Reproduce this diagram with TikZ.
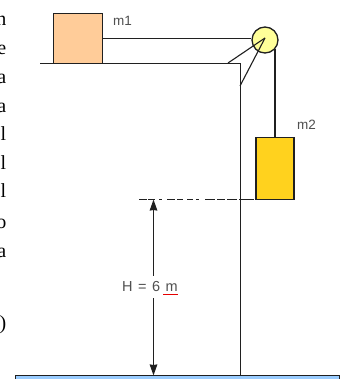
\documentclass[tikz,border=0pt]{standalone}
\usepackage{fontspec}
\setmainfont{Liberation Sans}
\newfontfamily\cutfont{Liberation Serif}
\usetikzlibrary{arrows.meta}
\definecolor{massacol}{HTML}{FFCC99}
\definecolor{massbcol}{HTML}{FFD21E}
\definecolor{pulleycol}{HTML}{FFFF99}
\definecolor{floorcol}{HTML}{99CCFF}
\definecolor{inkcol}{HTML}{202020}
\definecolor{labelcol}{HTML}{505050}
\tikzset{
    massbox/.style={draw=inkcol, line width=1.6pt, inner sep=0pt, outer sep=0pt, anchor=north west},
    rope/.style={draw=inkcol, line width=1.6pt},
    strut/.style={draw=inkcol, line width=1.1pt},
    masslabel/.style={text=labelcol, font=\fontsize{13.5}{15}\selectfont, inner sep=0pt},
    cutletter/.style={font=\cutfont\fontsize{20}{22}\selectfont, anchor=base east, inner sep=0pt},
}
\begin{document}
\begin{tikzpicture}[x=1pt, y=-1pt, >={Stealth[length=11pt, width=7.5pt, inset=0.5pt]}]
    \clip (0, 0) rectangle (345, 379);
    \fill[white] (0, 0) rectangle (345, 379);

    % Letters cut off at the left edge
    \foreach \ch/\ypos [count=\i] in {n/26, e/55, a/84, a/113, l/141, l/169, l/197, o/228, a/257, )/329}
        \node[cutletter] (cut\i) at (6.5, \ypos) {\ch};

    % Fixed points
    \coordinate (tablel) at (40, 63.5);
    \coordinate (corner) at (240.5, 63.5);
    \coordinate (apex) at (265, 38);
    \coordinate (strutl) at (228, 63);
    \coordinate (strutb) at (240, 86);
    \coordinate (refl) at (139, 199.5);
    \coordinate (htop) at (153.5, 199.5);
    \coordinate (hbot) at (153.5, 375.5);

    % Floor
    \node[massbox, fill=floorcol, minimum width=324pt, minimum height=12pt] (floor) at (15.5, 375.5) {};
    \coordinate (foot) at (floor.north -| corner);

    % Table and masses
    \draw[rope] (tablel) -- (corner) -- (foot);
    \node[massbox, fill=massacol, minimum width=49pt, minimum height=50pt] (massa) at (53.5, 13.5) {};
    \node[massbox, fill=massbcol, minimum width=38pt, minimum height=62pt] (massb) at (256, 137.5) {};
    \node[circle, draw=inkcol, line width=1.3pt, fill=pulleycol, minimum size=26pt, inner sep=0pt] (pulley) at (265, 40) {};

    % Ropes and pulley supports
    \draw[rope] (massa.east) -- (massa.east -| pulley.west);
    \draw[rope] (massb.north) -- (massb.north |- pulley.-40);
    \draw[strut] (apex) -- (strutl);
    \draw[strut] (apex) -- (strutb);

    % Height
    \draw[rope, dash pattern=on 8pt off 1pt on 7pt off 4pt on 3pt off 5pt on 8pt off 2pt on 6pt off 4pt on 6pt off 3pt on 3pt off 6pt on 10pt off 2pt on 8pt off 2pt on 10pt off 2pt on 15pt off 9pt] (refl) -- (massb.south west);
    \draw[rope, <->] (htop) -- (hbot);
    \node[fill=white, inner sep=0pt, minimum height=22pt, text=labelcol, font=\fontsize{14.5}{16}\selectfont] (hlabel) at (150, 287) {\spaceskip=5.5pt H = 6 m};
    \draw[red!90!black, line width=1pt] (163, 294) -- (178, 294);

    \node[masslabel] (labela) at (122.5, 21) {m1};
    \node[masslabel] (labelb) at (306.5, 125) {m2};
\end{tikzpicture}
\end{document}
